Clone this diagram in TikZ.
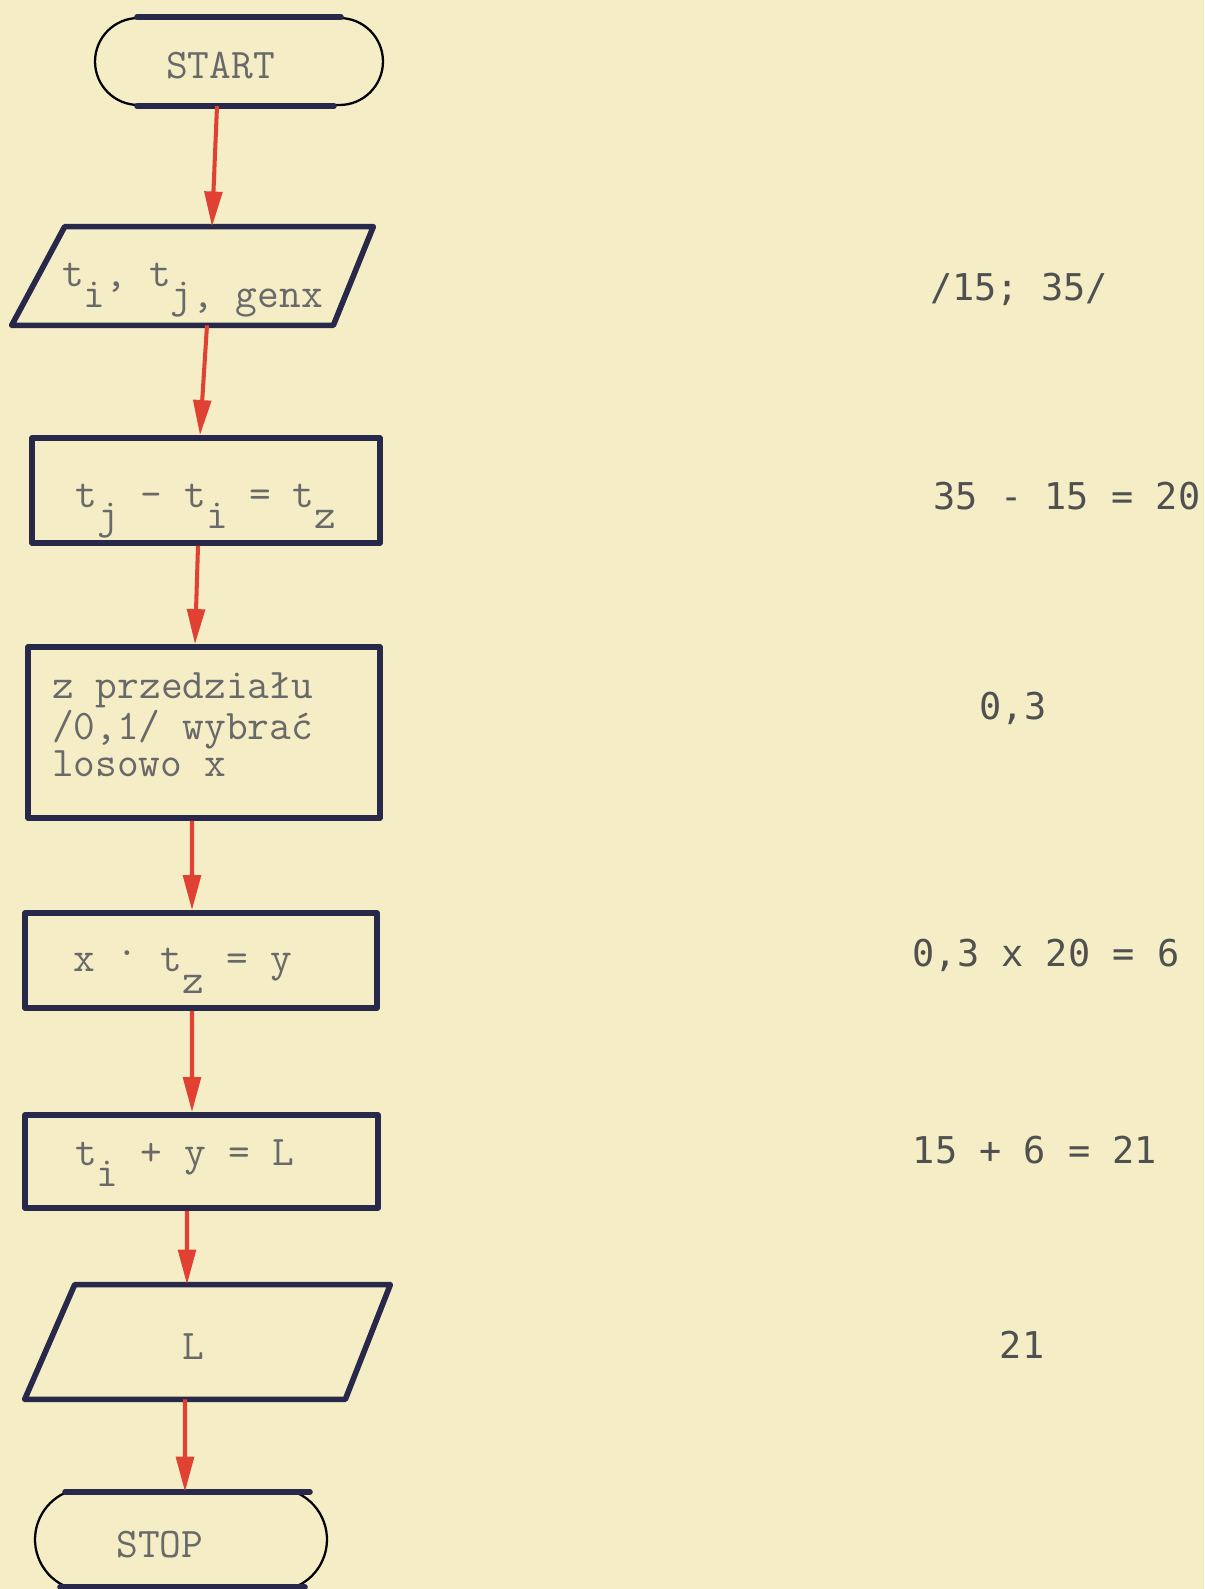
\documentclass[tikz,border=0pt]{standalone}
\usepackage{fontspec}
\usepackage{xcolor}
\definecolor{paper}{RGB}{244,237,197}
\definecolor{inkblue}{RGB}{40,40,75}
\definecolor{inkred}{RGB}{225,65,50}
\definecolor{typegray}{RGB}{105,105,105}
\definecolor{notegray}{RGB}{80,80,80}
\newfontfamily\notefont{DejaVu Sans Mono}
\newcommand{\typeface}{\ttfamily\fontsize{24}{21}\selectfont}
\newcommand{\fixsp}{\spaceskip=12.6pt\relax\xspaceskip=12.6pt\relax}
\newcommand{\lowch}[1]{\raisebox{-0.5em}{#1}}
\usepackage{tikz}
\usetikzlibrary{arrows.meta, shapes.misc}

\begin{document}
\begin{tikzpicture}[x=0.02cm, y=-0.02cm,
  every node/.style={inner sep=0pt},
  typed/.style={font=\typeface, text=typegray},
  oneline/.style={text height=#1, text depth=0pt},
  frame/.style={draw=inkblue, line width=3.2pt, line join=round},
  procbox/.style={frame, typed, rectangle},
  iobox/.style={typed, rectangle},
  terminal/.style={typed, rounded rectangle, draw=black, line width=1.3pt},
  capline/.style={inkblue, line width=3.2pt, line cap=round},
  flow/.style={inkred, line width=2.3pt, -{Triangle[length=20pt, width=10pt]}},
  note/.style={font=\notefont\fontsize{21}{21}\selectfont, text=notegray, text height=15pt, text depth=0pt}]

  % Paper
  \useasboundingbox (0,0) rectangle (1204,1589);
  \fill[paper] (0,0) rectangle (1204,1589);

  % --- Flow chart ---
  \node[terminal, minimum width=5.76cm, minimum height=1.74cm, oneline=18.8pt] (start) at (239,61.5) {START\kern21pt};
  \draw[capline] ([xshift=-2.04cm]start.north) -- ([xshift=2.04cm]start.north);
  \draw[capline] ([xshift=-2.04cm]start.south) -- ([xshift=1.9cm]start.south);

  \node[iobox, minimum width=7.22cm, minimum height=1.96cm, oneline=11.4pt] (in) at (192.5,276) {t\lowch{i}, t\lowch{j, genx}};
  \draw[frame] ([xshift=1.06cm]in.north west) -- (in.north east) -- ([xshift=-0.8cm]in.south east) -- (in.south west) -- cycle;

  \node[procbox, minimum width=6.96cm, minimum height=2.1cm, oneline=19.4pt] (diff) at (206,490.5) {t\lowch{j} - t\lowch{i} = t\lowch{z}};

  \node[procbox, minimum width=7.04cm, minimum height=3.42cm, text width=6.08cm] (rand) at (204,732.5) {\fixsp z przedziału\\/0,1/ wybrać\\losowo x\rule[-9pt]{0pt}{9pt}};

  \node[procbox, minimum width=7.04cm, minimum height=1.9cm, text width=5.12cm, oneline=13pt] (scale) at (201,960.5) {\fixsp x \raisebox{0.4em}{.} t\lowch{z} = y};

  \node[procbox, minimum width=7.06cm, minimum height=1.86cm, text width=5.06cm, oneline=5pt] (sum) at (201.5,1161.5) {\fixsp t\lowch{i} + y = L};

  \node[iobox, minimum width=7.3cm, minimum height=2.28cm, oneline=20.4pt] (out) at (207.5,1342) {L\kern16pt};
  \draw[frame] ([xshift=1cm]out.north west) -- (out.north east) -- ([xshift=-0.9cm]out.south east) -- (out.south west) -- cycle;

  \node[terminal, rounded rectangle arc length=130, minimum width=5.84cm, minimum height=1.86cm, oneline=20pt] (stop) at (181,1539.5) {STOP\kern24pt};
  \draw[capline] ([xshift=-2.32cm]stop.north) -- ([xshift=2.58cm]stop.north);
  \draw[capline] ([xshift=-2.42cm]stop.south) -- ([xshift=2.48cm]stop.south);

  % Red arrows
  \draw[flow] ([xshift=-0.44cm]start.south) -- ([xshift=0.39cm]in.north);
  \draw[flow] ([xshift=0.29cm]in.south) -- ([xshift=-0.12cm]diff.north);
  \draw[flow] ([xshift=-0.16cm]diff.south) -- ([xshift=-0.18cm]rand.north);
  \draw[flow] ([xshift=-0.24cm]rand.south) -- ([xshift=-0.18cm]scale.north);
  \draw[flow] ([xshift=-0.18cm]scale.south) -- ([xshift=-0.19cm]sum.north);
  \draw[flow] ([xshift=-0.29cm]sum.south) -- ([xshift=-0.41cm]out.north);
  \draw[flow] ([xshift=-0.45cm]out.south) -- ([xshift=0.08cm]stop.north);

  % --- Worked example ---
  \node[note] (r1) at (1019,287) {/15; 35/};
  \node[note] (r2) at (1067,496) {35 - 15 = 20};
  \node[note] (r3) at (1013,706) {0,3};
  \node[note] (r4) at (1046,953) {0,3 x 20 = 6};
  \node[note] (r5) at (1035,1150) {15 + 6 = 21};
  \node[note] (r6) at (1022,1345) {21};
\end{tikzpicture}
\end{document}
